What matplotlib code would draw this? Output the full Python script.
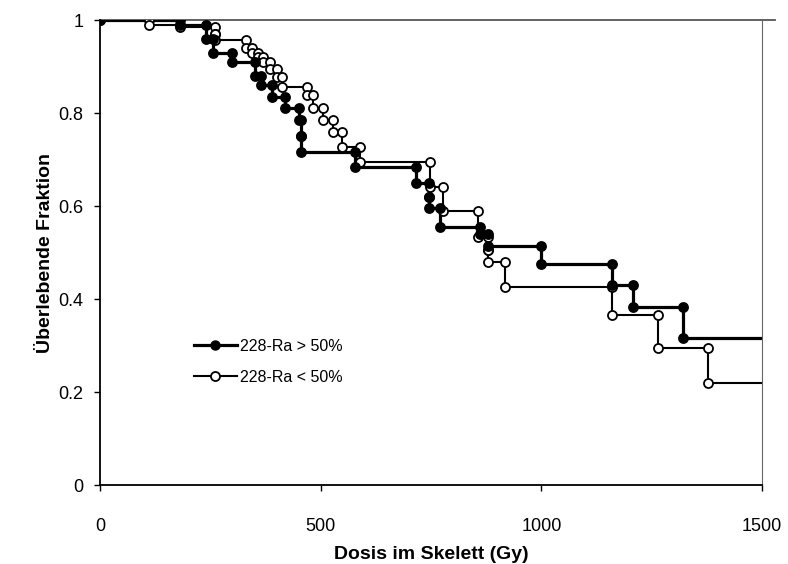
import matplotlib
matplotlib.use("Agg")
import matplotlib.pyplot as plt
import numpy as np

plt.rcParams['font.family'] = ['Liberation Sans', 'DejaVu Sans']

# Kaplan-Meier style survival data (dose in Gy, survival fraction after event)
high_dose = [180, 240, 255, 300, 350, 365, 390, 420, 450, 455, 455, 578,
             715, 745, 745, 770, 860, 880, 1000, 1160, 1208, 1320]
high_surv = [0.99, 0.96, 0.93, 0.91, 0.88, 0.86, 0.835, 0.81, 0.785, 0.75, 0.716, 0.684,
             0.65, 0.62, 0.596, 0.555, 0.54, 0.515, 0.475, 0.43, 0.383, 0.316]

low_dose = [110, 180, 260, 260, 330, 345, 358, 370, 385, 400, 413, 469, 483,
            505, 528, 548, 589, 748, 777, 857, 879, 879, 918, 1160, 1264, 1378]
low_surv = [0.99, 0.985, 0.97, 0.957, 0.94, 0.93, 0.92, 0.91, 0.895, 0.877, 0.856, 0.838, 0.81,
            0.785, 0.76, 0.727, 0.695, 0.64, 0.59, 0.533, 0.505, 0.48, 0.425, 0.366, 0.295, 0.22]

x_max = 1500
x_ticks = [0, 500, 1000, 1500]
y_ticks = [0, 0.2, 0.4, 0.6, 0.8, 1.0]
y_ticklabels = ['0', '0.2', '0.4', '0.6', '0.8', '1']
labels = ['228-Ra > 50%', '228-Ra < 50%']

fig = plt.figure(figsize=(7.88, 5.64), dpi=100)
ax = fig.add_axes([0.127, 0.14, 0.84, 0.8245])


def km(ax, dose, surv, lw, mfc):
    xs = [0.0] + list(dose) + [x_max]
    ys = [1.0] + list(surv) + [surv[-1]]
    ax.step(xs, ys, where='post', color='black', lw=lw, zorder=3)
    prev = [1.0] + list(surv[:-1])
    xm = [0.0] + [d for d in dose for _ in range(2)]
    ym = [1.0] + [v for p, s in zip(prev, surv) for v in (p, s)]
    ax.plot(xm, ym, 'o', color='black', mfc=mfc, mec='black', ms=6.5, mew=1.3, zorder=4)


km(ax, low_dose, low_surv, 1.5, 'white')
km(ax, high_dose, high_surv, 2.3, 'black')

# legend handles
h1, = ax.plot([], [], '-o', color='black', lw=2.3, mfc='black', ms=6.5)
h2, = ax.plot([], [], '-o', color='black', lw=1.5, mfc='white', mec='black', ms=6.5, mew=1.3)
ax.legend([h1, h2], labels, loc='upper left', bbox_to_anchor=(0.12, 0.345), frameon=False,
          handlelength=2.7, fontsize=11.5, labelspacing=1.0, handletextpad=0.2)

ax.set_xlim(0, x_max)
ax.set_ylim(0, 1)
ax.set_xticks(x_ticks)
ax.set_yticks(y_ticks)
ax.set_yticklabels(y_ticklabels)
ax.tick_params(axis='both', labelsize=13, direction='out', length=4, width=1)
ax.tick_params(axis='x', pad=20)
ax.tick_params(axis='y', pad=8)
ax.spines['top'].set_visible(False)
ax.spines['right'].set_color('#666666')
ax.spines['right'].set_linewidth(0.8)
ax.spines['left'].set_linewidth(1.3)
ax.spines['bottom'].set_linewidth(1.3)
ax.plot([0, 1530], [1.0, 1.0], color='#555555', lw=1.3, zorder=1, clip_on=False)

ax.set_xlabel('Dosis im Skelett (Gy)', fontsize=14, fontweight='bold', labelpad=8)
ax.set_ylabel('Überlebende Fraktion', fontsize=14, fontweight='bold', labelpad=3)

fig.savefig('out.png', dpi=100, facecolor='white')
